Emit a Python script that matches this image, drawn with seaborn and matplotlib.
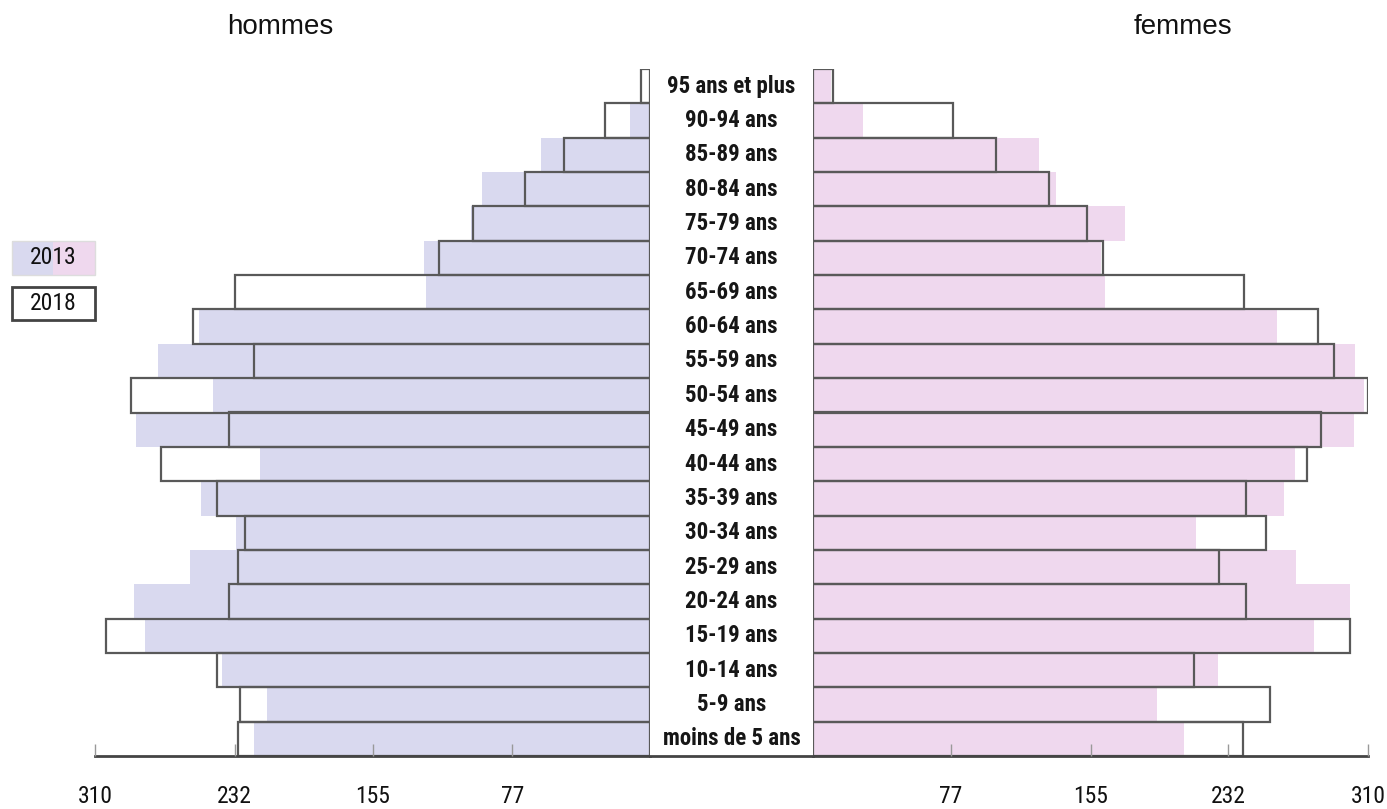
import matplotlib
matplotlib.use("Agg")
import matplotlib.pyplot as plt
import matplotlib.patches as mpatches
from matplotlib import font_manager
import seaborn as sns

ages = ["95 ans et plus", "90-94 ans", "85-89 ans", "80-84 ans", "75-79 ans",
        "70-74 ans", "65-69 ans", "60-64 ans", "55-59 ans", "50-54 ans",
        "45-49 ans", "40-44 ans", "35-39 ans", "30-34 ans", "25-29 ans",
        "20-24 ans", "15-19 ans", "10-14 ans", "5-9 ans", "moins de 5 ans"]

hommes_2013 = [0, 11, 61, 94, 100, 126, 125, 252, 275, 244,
               287, 218, 251, 231, 257, 288, 282, 239, 214, 221]
hommes_2018 = [5, 25, 48, 70, 99, 118, 232, 255, 221, 290,
               235, 273, 242, 226, 230, 235, 304, 242, 229, 230]
femmes_2013 = [10, 28, 126, 136, 174, 161, 163, 259, 303, 308,
               302, 269, 263, 214, 270, 300, 280, 226, 192, 207]
femmes_2018 = [11, 78, 102, 132, 153, 162, 241, 282, 291, 310,
               284, 276, 242, 253, 227, 242, 300, 213, 255, 240]

ticks = [310, 232, 155, 77]

LAV = "#d9d9ef"
PINK = "#efd8ee"
EDGE = "#595959"

# pick a narrow face if one is installed, else plain Arial-like
installed = {f.name for f in font_manager.fontManager.ttflist}
narrow = None
for n in ["Liberation Sans Narrow", "Arial Narrow", "DejaVu Sans Condensed",
          "Roboto Condensed", "Open Sans Condensed"]:
    if n in installed:
        narrow = n
        break
if narrow:
    NARROW = [narrow, "DejaVu Sans"]
    lab_size, lab_weight = 16.5, "bold"
else:
    NARROW = ["Liberation Sans", "DejaVu Sans"]
    lab_size, lab_weight = 14, "normal"

sns.set_style("white")
plt.rcParams["font.family"] = ["Liberation Sans", "DejaVu Sans"]

fig = plt.figure(figsize=(13.87, 8.09), dpi=100)
W, H = 1387, 809
bottom = (H - 756) / H
height = (756 - 69) / H
ax_l = fig.add_axes([95 / W, bottom, 555 / W, height])
ax_r = fig.add_axes([813 / W, bottom, 555 / W, height])
ax_m = fig.add_axes([650 / W, bottom, 163 / W, height])


def draw_side(ax, v2013, v2018, fill_color):
    sns.barplot(x=v2018, y=ages, orient="h", color="white", width=1,
                saturation=1, linewidth=0, ax=ax)
    sns.barplot(x=v2013, y=ages, orient="h", color=fill_color, width=1,
                saturation=1, linewidth=0, ax=ax)
    sns.barplot(x=v2018, y=ages, orient="h", color=EDGE, fill=False, width=1,
                linewidth=1.6, ax=ax)
    ax.set_axisbelow(False)
    ax.set_xlim(0, 310)
    ax.set_ylim(19.5, -0.5)
    ax.set_xticks(ticks)
    ax.set_xticklabels([str(t) for t in ticks], family=NARROW,
                       fontsize=17)
    ax.set_yticks([])
    ax.set_xlabel("")
    ax.set_ylabel("")
    for s in ["top", "left", "right"]:
        ax.spines[s].set_visible(False)
    ax.spines["bottom"].set_color("#444444")
    ax.spines["bottom"].set_linewidth(2)
    ax.tick_params(axis="x", bottom=True, direction="in", length=9, width=1,
                   color="#999999", pad=21, labelcolor="#111111")


draw_side(ax_l, hommes_2013, hommes_2018, LAV)
ax_l.invert_xaxis()
draw_side(ax_r, femmes_2013, femmes_2018, PINK)

# centre column with age labels
ax_m.set_xlim(0, 1)
ax_m.set_ylim(19.5, -0.5)
for i, a in enumerate(ages):
    ax_m.text(0.5, i, a, ha="center", va="center", family=NARROW,
              fontsize=lab_size, fontweight=lab_weight, color="#161616")
ax_m.set_xticks([])
ax_m.set_yticks([])
for s in ["top", "left", "right"]:
    ax_m.spines[s].set_visible(False)
ax_m.spines["bottom"].set_color("#444444")
ax_m.spines["bottom"].set_linewidth(2)

fig.text(280 / W, 1 - 27 / H, "hommes", ha="center", va="center",
         fontsize=20, color="#111111")
fig.text(1183 / W, 1 - 27 / H, "femmes", ha="center", va="center",
         fontsize=20, color="#111111")


# legend boxes
def fy(y):
    return 1 - y / H


fig.patches.append(mpatches.Rectangle((12 / W, fy(275)), 41 / W, 34 / H,
                                      transform=fig.transFigure,
                                      facecolor=LAV, edgecolor="none"))
fig.patches.append(mpatches.Rectangle((53 / W, fy(275)), 42 / W, 34 / H,
                                      transform=fig.transFigure,
                                      facecolor=PINK, edgecolor="none"))
fig.patches.append(mpatches.Rectangle((12 / W, fy(275)), 83 / W, 34 / H,
                                      transform=fig.transFigure,
                                      facecolor="none", edgecolor="#dddddd",
                                      linewidth=1))
fig.patches.append(mpatches.Rectangle((12 / W, fy(320)), 83 / W, 33 / H,
                                      transform=fig.transFigure,
                                      facecolor="white", edgecolor="#444444",
                                      linewidth=2))
fig.text(53 / W, fy(258), "2013", ha="center", va="center", family=NARROW,
         fontsize=17, color="#111111")
fig.text(53 / W, fy(303), "2018", ha="center", va="center", family=NARROW,
         fontsize=17, color="#111111")

fig.savefig("out.png", dpi=100)
